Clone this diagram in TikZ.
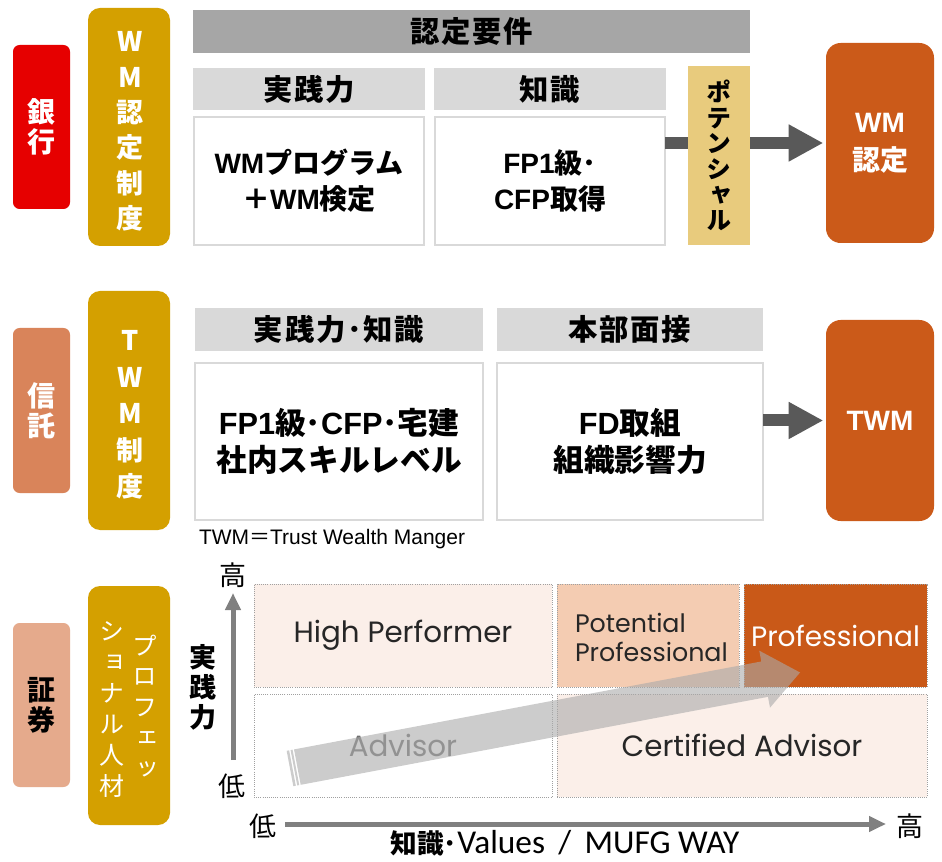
\documentclass[tikz,border=0pt]{standalone}
\usepackage{fontspec}
\setmainfont{Noto Sans CJK JP}
\newfontfamily\vjp[RawFeature=+vert]{Noto Sans CJK JP}
\newfontfamily\lib{Liberation Sans}
\newfontfamily\pop{Poppins}
\newfontfamily\car{Carlito}
\usetikzlibrary{arrows.meta}
\definecolor{cRed}{RGB}{230,0,0}
\definecolor{cGold}{RGB}{212,160,0}
\definecolor{cTrust}{RGB}{217,132,90}
\definecolor{cSec}{RGB}{229,170,140}
\definecolor{cOrange}{RGB}{203,90,25}
\definecolor{cPot}{RGB}{232,203,125}
\definecolor{hdrDark}{RGB}{166,166,166}
\definecolor{hdrLight}{RGB}{217,217,217}
\definecolor{bdr}{RGB}{217,217,217}
\definecolor{arrDark}{RGB}{89,89,89}
\definecolor{axisgray}{RGB}{128,128,128}
\definecolor{peach}{RGB}{251,239,233}
\definecolor{peachb}{RGB}{244,204,178}
\definecolor{prof}{RGB}{201,89,24}
\definecolor{cellb}{RGB}{160,160,160}
\definecolor{bigarr}{RGB}{170,170,170}
\definecolor{celltxt}{RGB}{38,38,38}
\definecolor{advtxt}{RGB}{110,110,110}
\newcommand\fpt[2]{\fontsize{#1pt}{#2pt}\selectfont}
\newcommand\LB[1]{{\lib #1}}
\tikzset{
  base/.style={inner sep=0pt, outer sep=0pt},
  sz/.style 2 args={minimum width=#1*0.75pt, minimum height=#2*0.75pt},
  tagbox/.style={base, rounded corners=5pt, align=center, font=\fpt{21}{22.5}\bfseries},
  sysbox/.style={base, fill=cGold, rounded corners=9pt},
  systext/.style={base, align=center, text=white, font=\fpt{20.25}{26.5}\bfseries},
  protext/.style={base, align=center, text=white, font=\vjp\fpt{18.75}{23.1}},
  hdr/.style={base, fill=hdrLight, font=\fpt{22}{24}\bfseries\addfontfeature{LetterSpace=6}},
  reqbox/.style={base, draw=bdr, line width=1.5pt, fill=white, align=center, font=\fpt{21}{27}\bfseries},
  reqboxb/.style={base, draw=bdr, line width=1.5pt, fill=white, align=center, font=\fpt{23}{27.75}\bfseries},
  result/.style={base, fill=cOrange, rounded corners=11pt, text=white, align=center, font=\fpt{21}{28.5}\bfseries},
  flow/.style={draw=arrDark, line width=9pt, -{Triangle[length=26pt,width=26pt]}, shorten >=2pt},
  axisline/.style={draw=axisgray, line width=3.75pt, -{Triangle[length=12.75pt,width=11.25pt]}},
  cell/.style={base, draw=cellb, densely dotted, line width=0.6pt, text=celltxt, font=\pop\fpt{22}{24}},
  axislbl/.style={base, font=\fpt{20.25}{22}},
}
\begin{document}
\begin{tikzpicture}[x=0.75pt,y=-0.75pt]
\useasboundingbox (0,0) rectangle (942,862);
\fill[white] (0,0) rectangle (942,862);

% side tags
\node[tagbox, fill=cRed, text=white, sz={57}{164}] (bank) at (41.5,127) {銀\\行};
\node[tagbox, fill=cTrust, text=white, sz={57}{165}] (trust) at (41.5,410.5) {信\\託};
\node[tagbox, fill=cSec, text=black, sz={57}{164}] (sec) at (41.5,705) {証\\券};

% system boxes
\node[sysbox, sz={82}{238}] (wmsys) at (129,127) {};
\node[systext] (wmsystxt) at (130,131.5) {W\\M\\認\\定\\制\\度};
\node[sysbox, sz={82}{239}] (twmsys) at (129,410.5) {};
\node[systext, font=\fpt{20.25}{27.4}\bfseries] (twmsystxt) at (130,415) {T\\W\\M\\制\\度};
\node[sysbox, sz={82}{239}] (prosys) at (129,705.5) {};
\node[protext] (procola) at (145,706.5) {プ\\ロ\\フ\\ェ\\ッ};
\node[protext, font=\vjp\fpt{18.75}{23.25}] (procolb) at (112,709.5) {シ\\ョ\\ナ\\ル\\人\\材};

% row 1
\node[hdr, fill=hdrDark, sz={557}{43}] (req) at (471.5,31.5) {認定要件};
\node[hdr, sz={232}{42}] (hprac) at (309,89) {実践力};
\node[hdr, sz={232}{42}] (hknow) at (550,89) {知識};
\node[reqbox, sz={230}{128}] (wmprog) at (309,181) {\LB{WM}プログラム\\＋\LB{WM}検定};
\node[reqbox, sz={230}{128}] (fpbox) at (550,181) {\LB{FP1}級･\\\LB{CFP}取得};
\node[result, sz={108}{200}] (wmcert) at (880,143) {\LB{WM}\\認定};
\draw[flow] (fpbox.east |- wmcert.west) -- (wmcert.west);
\node[base, fill=cPot, sz={62}{179}, align=center, font=\vjp\fpt{18.75}{19.2}\bfseries] (pot) at (719,155.5) {ポ\\テ\\ン\\シ\\ャ\\ル};

% row 2
\node[hdr, sz={288}{43}] (hboth) at (339,329.5) {実践力･知識};
\node[hdr, sz={266}{43}] (hint) at (630,329.5) {本部面接};
\node[reqboxb, sz={288}{157}] (skill) at (339,441.5) {\LB{FP1}級･\LB{CFP}･宅建\\社内スキルレベル};
\node[reqboxb, sz={266}{157}] (fd) at (630,441.5) {\LB{FD}取組\\組織影響力};
\node[result, sz={108}{201}] (twm) at (880,420.5) {\LB{TWM}};
\draw[flow] (fd.east |- twm.west) -- (twm.west);
\node[base, anchor=west, font=\lib\fpt{15.75}{18}] (note) at (199,539) {TWM{\rmfamily ＝}Trust Wealth Manger};

% matrix
\node[cell, fill=peach, sz={298}{103}] (hp) at (403,635.5) {High Performer};
\node[cell, fill=peachb, sz={182}{103}] (pp) at (648,635.5) {};
\node[base, anchor=west, align=left, text=celltxt, font=\pop\fpt{19}{21.75}] (pptxt) at (575,637.5) {Potential\\Professional};
\node[cell, fill=prof, text=white, font=\pop\fpt{21}{24}, sz={183}{103}] (pr) at (835.5,635.5) {Professional};
\node[cell, fill=white, text=advtxt, sz={298}{103}] (ad) at (403,745.5) {Advisor};
\node[cell, fill=peach, sz={370}{103}] (ca) at (742,745.5) {Certified Advisor};

% big translucent striped arrow
\begin{scope}[shift={(290,768.5)}, rotate=10.66]
\fill[bigarr, fill opacity=0.6] (0,-18) -- (2.5,-18) -- (2.5,18) -- (0,18) -- cycle;
\fill[bigarr, fill opacity=0.6] (4,-18) -- (6,-18) -- (6,18) -- (4,18) -- cycle;
\fill[bigarr, fill opacity=0.6] (7.5,-18) -- (483,-18) -- (483,-29) -- (519,0) -- (483,29) -- (483,18) -- (7.5,18) -- cycle;
\end{scope}

% axes
\coordinate (yfrom) at (233,760);
\coordinate (yto) at (233,593);
\draw[axisline] (yfrom) -- (yto);
\coordinate (xfrom) at (285,824);
\coordinate (xto) at (886,824);
\draw[axisline] (xfrom) -- (xto);
\node[axislbl] (yhi) at (233,575) {高};
\node[axislbl] (ylo) at (232,786) {低};
\node[axislbl] (xlo) at (263,826) {低};
\node[axislbl] (xhi) at (910,826) {高};
\node[base, align=center, font=\fpt{20.25}{22.5}\bfseries] (yname) at (203,687) {実\\践\\力};
\node[base, font=\fpt{20}{22}] (xname) at (565,843) {{\bfseries 知識･}{\car\fpt{25}{27}Values\hspace{10pt}/\hspace{10pt}MUFG WAY}};
\end{tikzpicture}
\end{document}
